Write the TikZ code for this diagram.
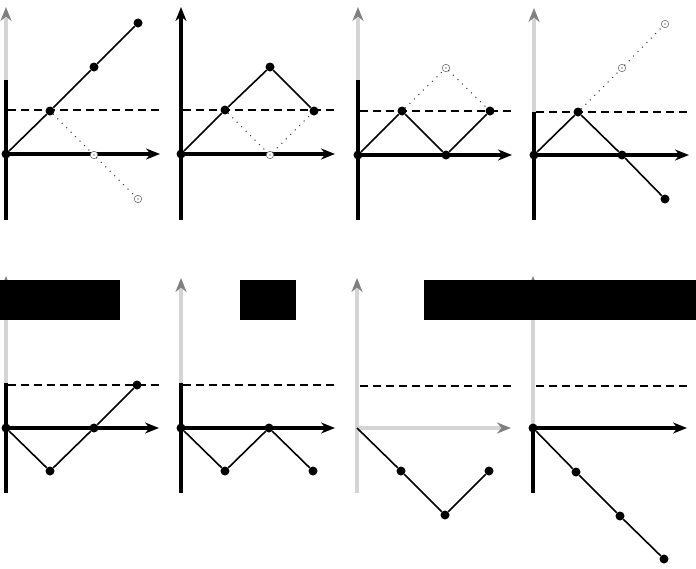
\documentclass[tikz,border=0pt]{standalone}
\usetikzlibrary{arrows.meta}
\definecolor{axgray}{RGB}{212,212,212}
\begin{document}
\begin{tikzpicture}[x=1pt,y=-1pt,
  axline/.style={line width=3.6pt},
  axarrow/.style={line width=3.6pt,-{Stealth[length=14pt,width=11pt]}},
  grayarrow/.style={line width=3.8pt,axgray,-{Stealth[length=14pt,width=11pt,color=black!50]}},
  lim/.style={line width=1.5pt,dash pattern=on 8pt off 5pt},
  dataline/.style={line width=1.6pt},
  ghost/.style={line width=1.5pt,black!75,line cap=round,dash pattern=on 0pt off 6.3pt},
  dot/.style={circle,fill=black,inner sep=0pt,minimum size=9pt},
  odot/.style={circle,draw=black!55,fill=white,line width=0.6pt,inner sep=0pt,minimum size=7.5pt},
  blk/.style={fill=black}]
\useasboundingbox (0,0) rectangle (696,568);

% ---------- Panel 1 ----------
\coordinate (a1b) at (6,220); \coordinate (a1m) at (6,80); \coordinate (a1t) at (6,7);
\coordinate (x1e) at (160,154);
\coordinate (d1s) at (8,110); \coordinate (d1e) at (162,110);
\draw[axline] (a1b) -- (a1m);
\draw[grayarrow] (a1m) -- (a1t);
\draw[lim] (d1s) -- (d1e);
\node[dot] (o1) at (6,154) {};
\draw[axarrow] (o1.center) -- (x1e);
\node[dot] (p1a) at (50,111) {};
\node[dot] (p1b) at (94,67) {};
\node[dot] (p1c) at (138,23) {};
\node[odot] (q1a) at (94,155) {};
\node[odot] (q1b) at (138,199) {};
\draw[dataline] (o1) -- (p1a) -- (p1b) -- (p1c);
\draw[ghost] (p1a) -- (q1a) -- (q1b);
\fill (q1a) circle (0.7pt); \fill (q1b) circle (0.7pt);

% ---------- Panel 2 ----------
\coordinate (a2b) at (181,220); \coordinate (a2t) at (181,7);
\coordinate (x2e) at (335,154);
\coordinate (d2s) at (183,110); \coordinate (d2e) at (337,110);
\draw[axarrow] (a2b) -- (a2t);
\draw[lim] (d2s) -- (d2e);
\node[dot] (o2) at (181,154) {};
\draw[axarrow] (o2.center) -- (x2e);
\node[dot] (p2a) at (225,110) {};
\node[dot] (p2b) at (270,67) {};
\node[dot] (p2c) at (314,111) {};
\node[odot] (q2a) at (270,155) {};
\draw[ghost] (p2a) -- (q2a) -- (p2c);
\draw[dataline] (o2) -- (p2a) -- (p2b) -- (p2c);
\fill (q2a) circle (0.7pt);

% ---------- Panel 3 ----------
\coordinate (a3b) at (358,220); \coordinate (a3m) at (358,80); \coordinate (a3t) at (358,7);
\coordinate (x3e) at (512,155);
\coordinate (d3s) at (360,111); \coordinate (d3e) at (513,111);
\draw[axline] (a3b) -- (a3m);
\draw[grayarrow] (a3m) -- (a3t);
\draw[lim] (d3s) -- (d3e);
\node[dot] (o3) at (358,155) {};
\draw[axarrow] (o3.center) -- (x3e);
\node[dot] (p3a) at (402,111) {};
\node[dot] (p3b) at (446,155) {};
\node[dot] (p3c) at (490,111) {};
\node[odot] (q3a) at (446,68) {};
\draw[ghost] (p3a) -- (q3a) -- (p3c);
\draw[dataline] (o3) -- (p3a) -- (p3b) -- (p3c);
\fill (q3a) circle (0.7pt);

% ---------- Panel 4 ----------
\coordinate (a4b) at (534,220); \coordinate (a4m) at (534,112); \coordinate (a4t) at (534,8);
\coordinate (x4e) at (689,155);
\coordinate (d4s) at (536,112); \coordinate (d4e) at (690,112);
\draw[axline] (a4b) -- (a4m);
\draw[grayarrow] (a4m) -- (a4t);
\draw[lim] (d4s) -- (d4e);
\node[dot] (o4) at (534,155) {};
\draw[axarrow] (o4.center) -- (x4e);
\node[dot] (p4a) at (578,112) {};
\node[dot] (p4b) at (622,155) {};
\node[dot] (p4c) at (665,199) {};
\node[odot] (q4a) at (622,68) {};
\node[odot] (q4b) at (665,24) {};
\draw[ghost] (p4a) -- (q4a) -- (q4b);
\draw[dataline] (o4) -- (p4a) -- (p4b) -- (p4c);
\fill (q4a) circle (0.7pt); \fill (q4b) circle (0.7pt);

% ---------- Panel 5 ----------
\coordinate (a5b) at (6,493); \coordinate (a5m) at (6,383); \coordinate (a5t) at (6,276);
\coordinate (x5e) at (159,428);
\coordinate (d5s) at (8,385); \coordinate (d5e) at (160,385);
\draw[axline] (a5b) -- (a5m);
\draw[grayarrow] (a5m) -- (a5t);
\draw[lim] (d5s) -- (d5e);
\node[dot] (o5) at (6,428) {};
\draw[axarrow] (o5.center) -- (x5e);
\node[dot] (p5a) at (50,471) {};
\node[dot] (p5b) at (94,428) {};
\node[dot] (p5c) at (137,385) {};
\draw[dataline] (o5) -- (p5a) -- (p5b) -- (p5c);

% ---------- Panel 6 ----------
\coordinate (a6b) at (181,493); \coordinate (a6m) at (181,383); \coordinate (a6t) at (181,278);
\coordinate (x6e) at (335,428);
\coordinate (d6s) at (183,385); \coordinate (d6e) at (336,385);
\draw[axline] (a6b) -- (a6m);
\draw[grayarrow] (a6m) -- (a6t);
\draw[lim] (d6s) -- (d6e);
\node[dot] (o6) at (181,428) {};
\draw[axarrow] (o6.center) -- (x6e);
\node[dot] (p6a) at (225,471) {};
\node[dot] (p6b) at (269,428) {};
\node[dot] (p6c) at (313,471) {};
\draw[dataline] (o6) -- (p6a) -- (p6b) -- (p6c);

% ---------- Panel 7 ----------
\coordinate (a7b) at (357,493); \coordinate (a7t) at (357,278);
\coordinate (x7e) at (511,428);
\coordinate (d7s) at (360,386); \coordinate (d7e) at (512,386);
\draw[grayarrow] (a7b) -- (a7t);
\draw[lim] (d7s) -- (d7e);
\coordinate (o7) at (357,428);
\draw[grayarrow] (o7) -- (x7e);
\node[dot] (p7a) at (401,471) {};
\node[dot] (p7b) at (445,515) {};
\node[dot] (p7c) at (489,471) {};
\draw[dataline] (o7) -- (p7a) -- (p7b) -- (p7c);

% ---------- Panel 8 ----------
\coordinate (a8b) at (533,493); \coordinate (a8m) at (533,428); \coordinate (a8t) at (533,276);
\coordinate (x8e) at (687,428);
\coordinate (d8s) at (536,386); \coordinate (d8e) at (689,386);
\draw[axline] (a8b) -- (a8m);
\draw[grayarrow] (a8m) -- (a8t);
\draw[lim] (d8s) -- (d8e);
\node[dot] (o8) at (533,428) {};
\draw[axarrow] (o8.center) -- (x8e);
\node[dot] (p8a) at (576,472) {};
\node[dot] (p8b) at (620,516) {};
\node[dot] (p8c) at (664,559) {};
\draw[dataline] (o8) -- (p8a) -- (p8b) -- (p8c);

% ---------- redaction bars ----------
\fill[blk] (0,280) rectangle (120,320);
\fill[blk] (240,280) rectangle (296,320);
\fill[blk] (424,280) rectangle (696,320);
\end{tikzpicture}
\end{document}
